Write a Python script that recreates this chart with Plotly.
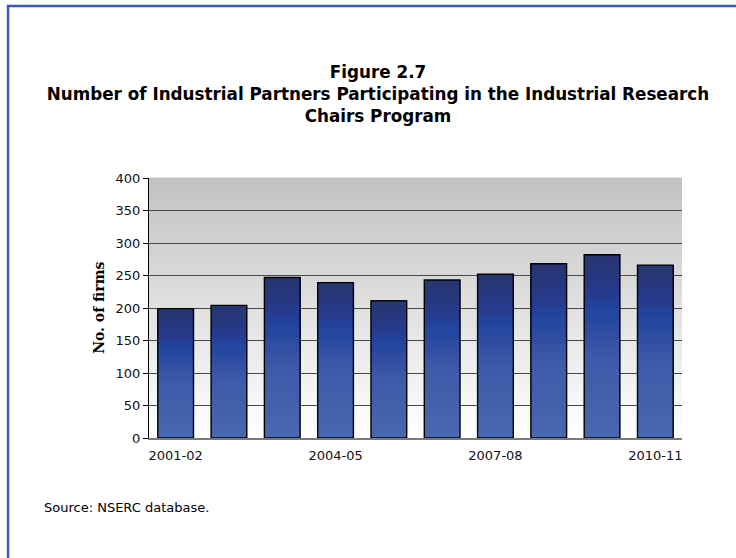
import plotly.graph_objects as go

years = ["2001-02", "2002-03", "2003-04", "2004-05", "2005-06",
         "2006-07", "2007-08", "2008-09", "2009-10", "2010-11"]
firms = [199, 204, 247, 239, 211, 243, 252, 268, 282, 266]
shown_ticks = ["2001-02", "2004-05", "2007-08", "2010-11"]

# vertical colour stops for the bar shading (fraction of bar height -> rgb)
bar_stops = [(0.0, (72, 104, 176)), (0.45, (60, 90, 168)), (0.62, (42, 74, 160)),
             (0.7, (34, 69, 160)), (0.8, (39, 57, 138)), (1.0, (40, 52, 112))]


def lerp_color(f, stops):
    for (f0, c0), (f1, c1) in zip(stops[:-1], stops[1:]):
        if f0 <= f <= f1:
            t = (f - f0) / (f1 - f0)
            return "rgb(%d,%d,%d)" % tuple(round(a + (b - a) * t) for a, b in zip(c0, c1))
    return "rgb(%d,%d,%d)" % stops[-1][1]


fig = go.Figure()

# shaded bars: each band runs from its start up to the bar top, later ones cover earlier ones
n_bands = 24
for i in range(n_bands):
    f0 = i / n_bands
    fig.add_trace(go.Bar(
        x=years,
        y=[v * (1 - f0) for v in firms],
        base=[v * f0 for v in firms],
        width=0.67,
        marker=dict(color=lerp_color(f0 + 0.5 / n_bands, bar_stops), line=dict(width=0)),
        hoverinfo="skip",
        showlegend=False,
    ))

# outline on top
fig.add_trace(go.Bar(
    x=years,
    y=firms,
    width=0.67,
    marker=dict(color="rgba(0,0,0,0)", line=dict(color="black", width=1.4)),
    name="No. of firms",
    showlegend=False,
))

# plot-area background: grey at top fading to white
shapes = []
n_bg = 40
for i in range(n_bg):
    t = i / (n_bg - 1)
    g = round(255 - (255 - 194) * t)
    shapes.append(dict(
        type="rect", xref="x domain", yref="y domain",
        x0=0, x1=1, y0=i / n_bg, y1=(i + 1) / n_bg + 0.002,
        fillcolor="rgb(%d,%d,%d)" % (g, g, g), line=dict(width=0), layer="below",
    ))

# blue frame around the figure
shapes.append(dict(
    type="rect", xref="paper", yref="paper",
    x0=-0.2645, x1=1.4, y0=-0.9, y1=1.6615,
    line=dict(color="#3a5bb5", width=2.5), fillcolor="rgba(0,0,0,0)",
))

fig.update_layout(
    width=736,
    height=558,
    margin=dict(l=149, r=54, t=178, b=120),
    paper_bgcolor="white",
    plot_bgcolor="white",
    barmode="overlay",
    font=dict(family="DejaVu Sans", size=13, color="#111111"),
    title=dict(
        text="<b>Figure 2.7<br>Number of Industrial Partners Participating in the Industrial Research<br>Chairs Program</b>",
        font=dict(family="DejaVu Sans", size=16.8, color="black"),
        xref="container", x=378 / 736, xanchor="center",
        yref="container", y=0.860, yanchor="top",
    ),
    shapes=shapes,
    annotations=[
        dict(text="<b>No. of firms</b>", xref="paper", yref="paper",
             x=-0.113, y=0.5, textangle=-90, showarrow=False,
             font=dict(family="DejaVu Serif", size=14, color="black")),
        dict(text="Source: NSERC database.", xref="paper", yref="paper",
             x=-0.2008, y=-0.269, xanchor="left", yanchor="middle", showarrow=False,
             font=dict(family="DejaVu Sans", size=13, color="black")),
    ],
)

fig.update_xaxes(
    type="category",
    tickmode="array",
    tickvals=shown_ticks,
    ticktext=shown_ticks,
    showgrid=False,
    showline=True,
    linecolor="#7a7a7a",
    linewidth=2,
    ticks="",
    ticklabelstandoff=4,
)

fig.update_yaxes(
    range=[0, 400],
    dtick=50,
    showgrid=True,
    gridcolor="#484848",
    gridwidth=1,
    zeroline=False,
    showline=True,
    linecolor="black",
    linewidth=1,
    ticks="outside",
    ticklen=5,
    tickcolor="black",
)

# page margin off so the figure sits at the window's top-left corner
fig.write_html("out.html", config={"displayModeBar": False},
               post_script="document.body.style.margin='0';")
